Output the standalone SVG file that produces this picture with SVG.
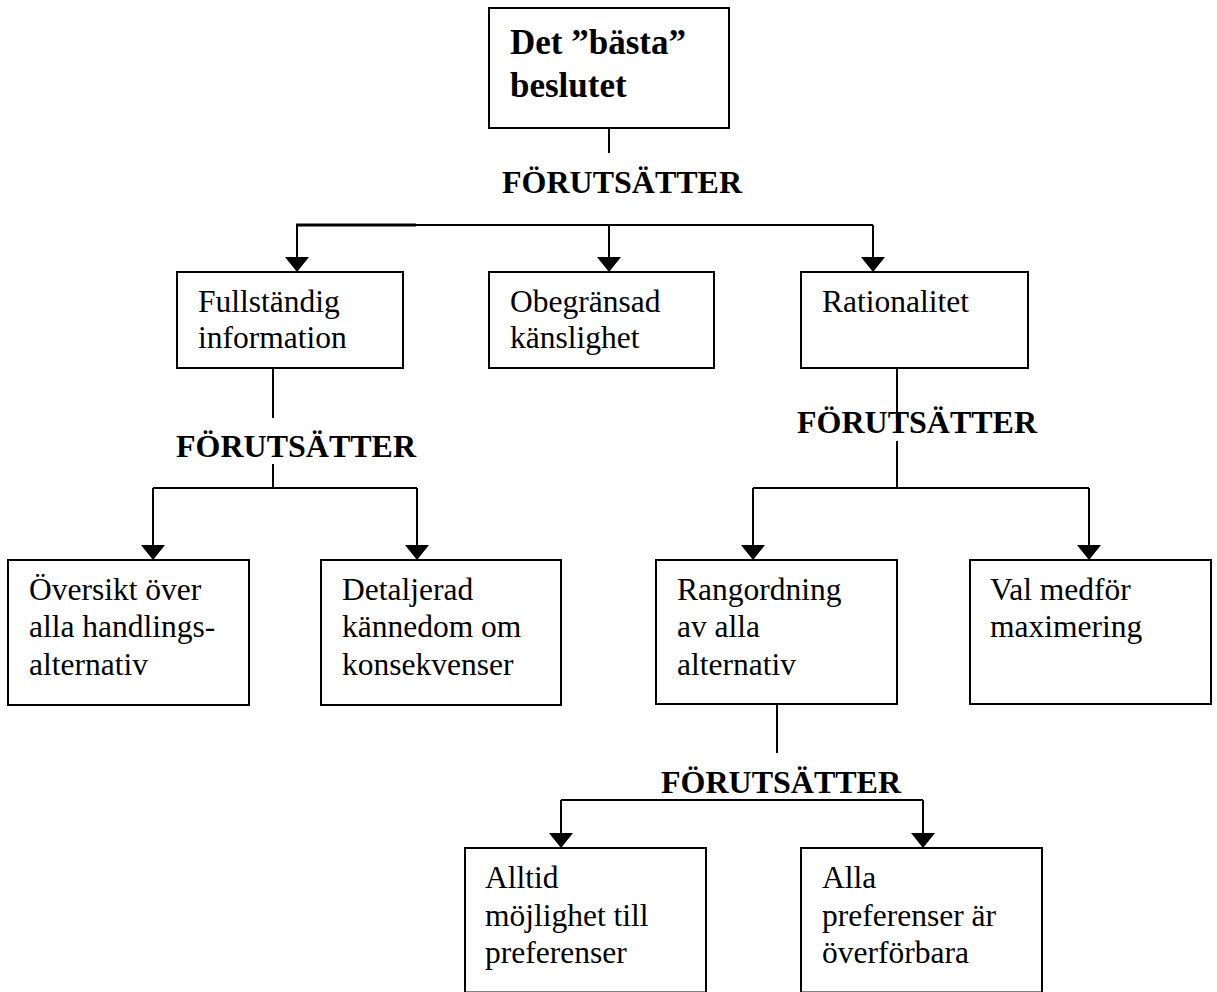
<svg xmlns="http://www.w3.org/2000/svg" width="1217" height="992" viewBox="0 0 1217 992">
<defs>
<style>
.box{fill:#fff;stroke:#000;stroke-width:2}
.ln{fill:none;stroke:#000;stroke-width:2}
.t{font-family:"Liberation Serif","Times New Roman",serif;font-size:31.5px;fill:#000}
.b{font-family:"Liberation Serif","Times New Roman",serif;font-weight:bold;fill:#000}
.lbl{font-size:32px;text-anchor:middle}
</style>
<marker id="arr" viewBox="0 0 15 24" refX="15" refY="12" markerWidth="15" markerHeight="24" markerUnits="userSpaceOnUse" orient="auto">
<path d="M0,0 L15,12 L0,24 Z" fill="#000"/>
</marker>
</defs>
<rect width="1217" height="992" fill="#fff"/>
<g id="connectors">
<path class="ln" d="M609,128 V153"/>
<path class="ln" d="M416,225 H873"/>
<path d="M296,225 H416" fill="none" stroke="#000" stroke-width="3"/>
<path class="ln" d="M297,225 V272" marker-end="url(#arr)"/>
<path class="ln" d="M609,225 V272" marker-end="url(#arr)"/>
<path class="ln" d="M873,225 V272" marker-end="url(#arr)"/>
<path class="ln" d="M273,368 V418"/>
<path class="ln" d="M273,464 V488"/>
<path class="ln" d="M153,488 H417"/>
<path class="ln" d="M153,488 V560" marker-end="url(#arr)"/>
<path class="ln" d="M417,488 V560" marker-end="url(#arr)"/>
<path class="ln" d="M897,368 V419"/>
<path class="ln" d="M897,441 V488"/>
<path class="ln" d="M753,488 H1089"/>
<path class="ln" d="M753,488 V560" marker-end="url(#arr)"/>
<path class="ln" d="M1089,488 V560" marker-end="url(#arr)"/>
<path class="ln" d="M777,704 V753"/>
<path class="ln" d="M561,800 H923"/>
<path class="ln" d="M561,800 V848" marker-end="url(#arr)"/>
<path class="ln" d="M923,800 V848" marker-end="url(#arr)"/>
<text class="b lbl" x="622" y="193">FÖRUTSÄTTER</text>
<text class="b lbl" x="296" y="457">FÖRUTSÄTTER</text>
<text class="b lbl" x="917" y="433">FÖRUTSÄTTER</text>
<text class="b lbl" x="781" y="793">FÖRUTSÄTTER</text>
</g>
<g id="n-top">
<rect class="box" x="489" y="8" width="240" height="120"/>
<text class="b" style="font-size:35px" x="510" y="54">Det ”bästa”</text>
<text class="b" style="font-size:35px" x="510" y="97">beslutet</text>
</g>
<g id="n-full">
<rect class="box" x="177" y="272" width="226" height="96"/>
<text class="t" x="198" y="312">Fullständig</text>
<text class="t" x="198" y="348">information</text>
</g>
<g id="n-obeg">
<rect class="box" x="489" y="272" width="225" height="96"/>
<text class="t" x="510" y="312">Obegränsad</text>
<text class="t" x="510" y="348">känslighet</text>
</g>
<g id="n-rat">
<rect class="box" x="801" y="272" width="227" height="96"/>
<text class="t" x="822" y="312">Rationalitet</text>
</g>
<g id="n-oversikt">
<rect class="box" x="8" y="560" width="241" height="145"/>
<text class="t" x="29" y="600">Översikt över</text>
<text class="t" x="29" y="637">alla handlings-</text>
<text class="t" x="29" y="675">alternativ</text>
</g>
<g id="n-detalj">
<rect class="box" x="321" y="560" width="240" height="145"/>
<text class="t" x="342" y="600">Detaljerad</text>
<text class="t" x="342" y="637">kännedom om</text>
<text class="t" x="342" y="675">konsekvenser</text>
</g>
<g id="n-rang">
<rect class="box" x="656" y="560" width="241" height="144"/>
<text class="t" x="677" y="600">Rangordning</text>
<text class="t" x="677" y="637">av alla</text>
<text class="t" x="677" y="675">alternativ</text>
</g>
<g id="n-val">
<rect class="box" x="970" y="560" width="241" height="144"/>
<text class="t" x="990" y="600">Val medför</text>
<text class="t" x="990" y="637">maximering</text>
</g>
<g id="n-alltid">
<rect class="box" x="465" y="848" width="241" height="144.5"/>
<text class="t" x="485" y="888">Alltid</text>
<text class="t" x="485" y="926">möjlighet till</text>
<text class="t" x="485" y="963">preferenser</text>
</g>
<g id="n-alla">
<rect class="box" x="801" y="848" width="241" height="144.5"/>
<text class="t" x="822" y="888">Alla</text>
<text class="t" x="822" y="926">preferenser är</text>
<text class="t" x="822" y="963">överförbara</text>
</g>
</svg>
